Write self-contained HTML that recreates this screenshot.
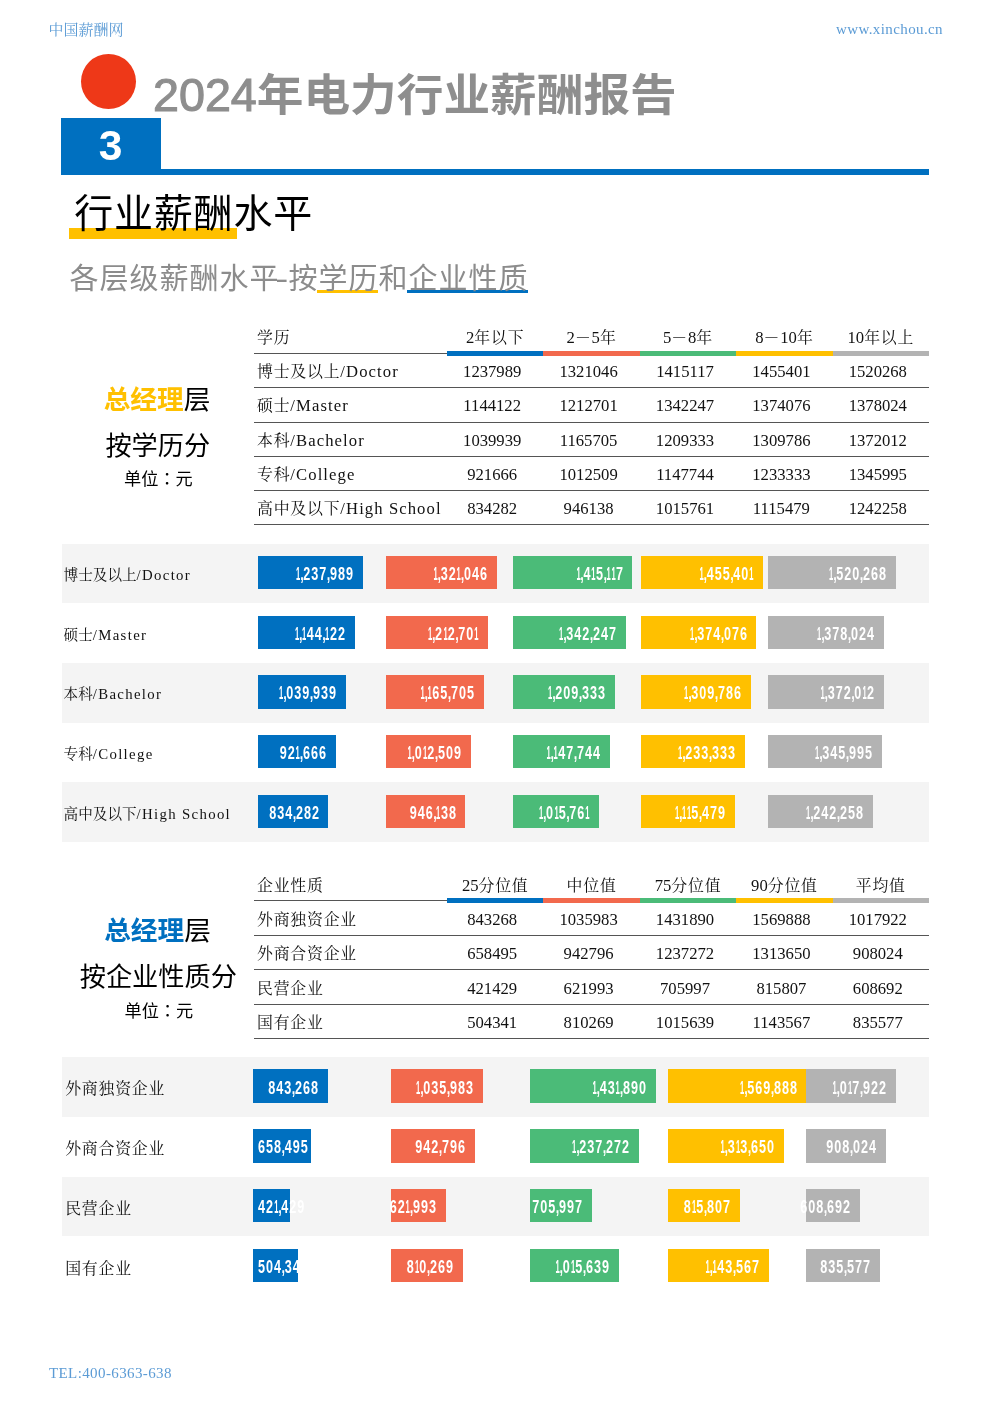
<!DOCTYPE html>
<html lang="zh-CN"><head><meta charset="utf-8"><title>2024年电力行业薪酬报告</title>
<style>
html,body{margin:0;padding:0;background:#fff}
body{width:992px;height:1403px;position:relative;overflow:hidden;font-family:"Liberation Sans","Noto Sans CJK SC",sans-serif;color:#000}
.a{position:absolute;white-space:nowrap;line-height:1}
.hd{font-family:"Liberation Serif","Noto Serif CJK SC",serif;font-size:15px;color:#5B9BD5}
.t{font-family:"Liberation Serif","Noto Serif CJK SC",serif;font-size:15.9px;letter-spacing:.77px;color:#111}
.n{font-family:"Liberation Serif","Noto Serif CJK SC",serif;font-size:16.67px;color:#111;text-align:center}
.lb{font-family:"Liberation Serif","Noto Serif CJK SC",serif;font-size:14.6px;color:#111}
.m{font-family:"Liberation Serif",serif;font-size:16.67px;letter-spacing:1.08px}
.hn{font-family:"Liberation Serif","Noto Serif CJK SC",serif;font-size:15.9px;letter-spacing:.77px;color:#111;text-align:center}
.hn i{font-style:normal;font-size:16.67px;letter-spacing:0}
.ml{font-family:"Liberation Serif",serif;font-size:14.8px;letter-spacing:1.33px}
.mh{font-family:"Liberation Serif",serif;letter-spacing:.026em}
.v{font-family:"Liberation Sans",sans-serif;font-weight:700;font-size:18px;letter-spacing:1.42px;color:#fff;transform:scaleX(.70);transform-origin:100% 50%;text-align:right}
.v i{font-style:normal;display:inline-block;transform:scaleX(.6);transform-origin:46.5% 50%;margin:0 -2.8px 0 -2px}
.v b{margin:0 -1.95px 0 -.7px}
.vl{transform-origin:0 50%;text-align:left}
.ln{position:absolute;height:1px;background:#555}
</style></head><body>

<div class="a hd" style="left:48.5px;top:23px">中国薪酬网</div>
<div class="a hd" style="right:49px;top:22px"><span class="mh">www.xinchou.cn</span></div>
<div class="a hd" style="left:49px;top:1366px"><span class="mh">TEL:400-6363-638</span></div>
<div class="a" style="left:81px;top:53.5px;width:55px;height:55px;border-radius:50%;background:#EE3818"></div>
<div class="a" style="left:153px;top:71.7px;font-size:46.67px;color:#8E8E8E"><span style="-webkit-text-stroke:1.1px #8E8E8E">2024</span><span style="display:inline-block;font-weight:700;transform:scaleY(.95);transform-origin:0 88%">年电力行业薪酬报告</span></div>
<div class="a" style="left:61px;top:118px;width:99.5px;height:56.5px;background:#0070C0"></div>
<div class="a" style="left:160px;top:168.5px;width:769px;height:6px;background:#0070C0"></div>
<div class="a" style="left:61px;top:125px;width:99px;text-align:center;font-size:42.5px;font-weight:700;color:#fff">3</div>
<div class="a" style="left:69.4px;top:228px;width:167.6px;height:10.6px;background:#FFC000"></div>
<div class="a" style="left:74.2px;top:194.2px;font-size:39px;letter-spacing:.8px;color:#000">行业薪酬水平</div>
<div class="a" style="left:317.2px;top:290px;width:60.5px;height:3px;background:#FFC000"></div>
<div class="a" style="left:407.4px;top:290px;width:120.6px;height:3px;background:#0070C0"></div>
<div class="a" style="left:69.5px;top:264.6px;font-size:29px;letter-spacing:1px;color:#8C8C8C">各层级薪酬水平<span style="display:inline-block;transform:scaleX(1.35);margin:0 .9px 0 -2.6px">-</span>按学历和企业性质</div>
<div class="ln" style="left:254px;top:352.9px;width:675px"></div>
<div class="a" style="left:447.0px;top:350.9px;width:96.4px;height:5px;background:#0070C0"></div>
<div class="a" style="left:543.4px;top:350.9px;width:96.4px;height:5px;background:#F2694D"></div>
<div class="a" style="left:639.8px;top:350.9px;width:96.4px;height:5px;background:#4BBB78"></div>
<div class="a" style="left:736.2px;top:350.9px;width:96.4px;height:5px;background:#FFC000"></div>
<div class="a" style="left:832.6px;top:350.9px;width:96.4px;height:5px;background:#B3B3B3"></div>
<div class="ln" style="left:254px;top:387.2px;width:675px"></div>
<div class="ln" style="left:254px;top:421.5px;width:675px"></div>
<div class="ln" style="left:254px;top:455.8px;width:675px"></div>
<div class="ln" style="left:254px;top:490.1px;width:675px"></div>
<div class="ln" style="left:254px;top:524.4px;width:675px"></div>
<div class="a t" style="left:257px;top:330.1px">学历</div>
<div class="a hn" style="left:447.0px;top:330.1px;width:96.4px"><i>2</i>年以下</div>
<div class="a hn" style="left:543.4px;top:330.1px;width:96.4px"><i>2</i>－<i>5</i>年</div>
<div class="a hn" style="left:639.8px;top:330.1px;width:96.4px"><i>5</i>－<i>8</i>年</div>
<div class="a hn" style="left:736.2px;top:330.1px;width:96.4px"><i>8</i>－<i>10</i>年</div>
<div class="a hn" style="left:832.6px;top:330.1px;width:96.4px"><i>10</i>年以上</div>
<div class="a t" style="left:257px;top:364.0px">博士及以上<span class="m">/Doctor</span></div>
<div class="a n" style="left:444.0px;top:364.0px;width:96.4px">1237989</div>
<div class="a n" style="left:540.4px;top:364.0px;width:96.4px">1321046</div>
<div class="a n" style="left:636.8px;top:364.0px;width:96.4px">1415117</div>
<div class="a n" style="left:733.2px;top:364.0px;width:96.4px">1455401</div>
<div class="a n" style="left:829.6px;top:364.0px;width:96.4px">1520268</div>
<div class="a t" style="left:257px;top:398.4px">硕士<span class="m">/Master</span></div>
<div class="a n" style="left:444.0px;top:398.4px;width:96.4px">1144122</div>
<div class="a n" style="left:540.4px;top:398.4px;width:96.4px">1212701</div>
<div class="a n" style="left:636.8px;top:398.4px;width:96.4px">1342247</div>
<div class="a n" style="left:733.2px;top:398.4px;width:96.4px">1374076</div>
<div class="a n" style="left:829.6px;top:398.4px;width:96.4px">1378024</div>
<div class="a t" style="left:257px;top:432.6px">本科<span class="m">/Bachelor</span></div>
<div class="a n" style="left:444.0px;top:432.6px;width:96.4px">1039939</div>
<div class="a n" style="left:540.4px;top:432.6px;width:96.4px">1165705</div>
<div class="a n" style="left:636.8px;top:432.6px;width:96.4px">1209333</div>
<div class="a n" style="left:733.2px;top:432.6px;width:96.4px">1309786</div>
<div class="a n" style="left:829.6px;top:432.6px;width:96.4px">1372012</div>
<div class="a t" style="left:257px;top:467.0px">专科<span class="m">/College</span></div>
<div class="a n" style="left:444.0px;top:467.0px;width:96.4px">921666</div>
<div class="a n" style="left:540.4px;top:467.0px;width:96.4px">1012509</div>
<div class="a n" style="left:636.8px;top:467.0px;width:96.4px">1147744</div>
<div class="a n" style="left:733.2px;top:467.0px;width:96.4px">1233333</div>
<div class="a n" style="left:829.6px;top:467.0px;width:96.4px">1345995</div>
<div class="a t" style="left:257px;top:501.2px">高中及以下<span class="m">/High School</span></div>
<div class="a n" style="left:444.0px;top:501.2px;width:96.4px">834282</div>
<div class="a n" style="left:540.4px;top:501.2px;width:96.4px">946138</div>
<div class="a n" style="left:636.8px;top:501.2px;width:96.4px">1015761</div>
<div class="a n" style="left:733.2px;top:501.2px;width:96.4px">1115479</div>
<div class="a n" style="left:829.6px;top:501.2px;width:96.4px">1242258</div>
<div class="ln" style="left:254px;top:900.4px;width:675px"></div>
<div class="a" style="left:447.0px;top:898.4px;width:96.4px;height:5px;background:#0070C0"></div>
<div class="a" style="left:543.4px;top:898.4px;width:96.4px;height:5px;background:#F2694D"></div>
<div class="a" style="left:639.8px;top:898.4px;width:96.4px;height:5px;background:#4BBB78"></div>
<div class="a" style="left:736.2px;top:898.4px;width:96.4px;height:5px;background:#FFC000"></div>
<div class="a" style="left:832.6px;top:898.4px;width:96.4px;height:5px;background:#B3B3B3"></div>
<div class="ln" style="left:254px;top:934.8px;width:675px"></div>
<div class="ln" style="left:254px;top:969.1px;width:675px"></div>
<div class="ln" style="left:254px;top:1003.5px;width:675px"></div>
<div class="ln" style="left:254px;top:1037.9px;width:675px"></div>
<div class="a t" style="left:257px;top:878.1px">企业性质</div>
<div class="a hn" style="left:447.0px;top:878.1px;width:96.4px"><i>25</i>分位值</div>
<div class="a hn" style="left:543.4px;top:878.1px;width:96.4px">中位值</div>
<div class="a hn" style="left:639.8px;top:878.1px;width:96.4px"><i>75</i>分位值</div>
<div class="a hn" style="left:736.2px;top:878.1px;width:96.4px"><i>90</i>分位值</div>
<div class="a hn" style="left:832.6px;top:878.1px;width:96.4px">平均值</div>
<div class="a t" style="left:257px;top:911.8px">外商独资企业</div>
<div class="a n" style="left:444.0px;top:911.8px;width:96.4px">843268</div>
<div class="a n" style="left:540.4px;top:911.8px;width:96.4px">1035983</div>
<div class="a n" style="left:636.8px;top:911.8px;width:96.4px">1431890</div>
<div class="a n" style="left:733.2px;top:911.8px;width:96.4px">1569888</div>
<div class="a n" style="left:829.6px;top:911.8px;width:96.4px">1017922</div>
<div class="a t" style="left:257px;top:946.2px">外商合资企业</div>
<div class="a n" style="left:444.0px;top:946.2px;width:96.4px">658495</div>
<div class="a n" style="left:540.4px;top:946.2px;width:96.4px">942796</div>
<div class="a n" style="left:636.8px;top:946.2px;width:96.4px">1237272</div>
<div class="a n" style="left:733.2px;top:946.2px;width:96.4px">1313650</div>
<div class="a n" style="left:829.6px;top:946.2px;width:96.4px">908024</div>
<div class="a t" style="left:257px;top:980.5px">民营企业</div>
<div class="a n" style="left:444.0px;top:980.5px;width:96.4px">421429</div>
<div class="a n" style="left:540.4px;top:980.5px;width:96.4px">621993</div>
<div class="a n" style="left:636.8px;top:980.5px;width:96.4px">705997</div>
<div class="a n" style="left:733.2px;top:980.5px;width:96.4px">815807</div>
<div class="a n" style="left:829.6px;top:980.5px;width:96.4px">608692</div>
<div class="a t" style="left:257px;top:1014.9px">国有企业</div>
<div class="a n" style="left:444.0px;top:1014.9px;width:96.4px">504341</div>
<div class="a n" style="left:540.4px;top:1014.9px;width:96.4px">810269</div>
<div class="a n" style="left:636.8px;top:1014.9px;width:96.4px">1015639</div>
<div class="a n" style="left:733.2px;top:1014.9px;width:96.4px">1143567</div>
<div class="a n" style="left:829.6px;top:1014.9px;width:96.4px">835577</div>
<div class="a" style="left:157.0px;top:387.0px;width:300px;margin-left:-150px;text-align:center;font-size:26.67px"><b style="color:#FFC000">总经理</b>层</div>
<div class="a" style="left:157.8px;top:433.3px;width:300px;margin-left:-150px;text-align:center;font-size:26.2px">按学历分</div>
<div class="a" style="left:158.4px;top:470.5px;width:300px;margin-left:-150px;text-align:center;font-size:17.2px">单位<span lang="zh-TW" style="font-family:'Liberation Sans','Noto Sans CJK TC',sans-serif">：</span>元</div>
<div class="a" style="left:157.5px;top:917.5px;width:300px;margin-left:-150px;text-align:center;font-size:26.67px"><b style="color:#0070C0">总经理</b>层</div>
<div class="a" style="left:158.3px;top:964.3px;width:300px;margin-left:-150px;text-align:center;font-size:26.2px">按企业性质分</div>
<div class="a" style="left:158.9px;top:1002.5px;width:300px;margin-left:-150px;text-align:center;font-size:17.2px">单位<span lang="zh-TW" style="font-family:'Liberation Sans','Noto Sans CJK TC',sans-serif">：</span>元</div>
<div class="a" style="left:61.8px;top:543.6px;width:867.2px;height:59.7px;background:#F4F4F4"></div>
<div class="a" style="left:61.8px;top:663.0px;width:867.2px;height:59.7px;background:#F4F4F4"></div>
<div class="a" style="left:61.8px;top:782.4px;width:867.2px;height:59.7px;background:#F4F4F4"></div>
<div class="a lb" style="left:63.6px;top:567.8px;font-size:14.60px;letter-spacing:0.00px">博士及以上<span class="ml">/Doctor</span></div>
<div class="a lb" style="left:63.6px;top:627.5px;font-size:14.60px;letter-spacing:0.00px">硕士<span class="ml">/Master</span></div>
<div class="a lb" style="left:63.6px;top:687.1px;font-size:14.60px;letter-spacing:0.00px">本科<span class="ml">/Bachelor</span></div>
<div class="a lb" style="left:63.6px;top:746.9px;font-size:14.60px;letter-spacing:0.00px">专科<span class="ml">/College</span></div>
<div class="a lb" style="left:63.6px;top:806.6px;font-size:14.60px;letter-spacing:0.00px">高中及以下<span class="ml">/High School</span></div>
<div class="a" style="left:258.2px;top:555.8px;width:104.4px;height:33.6px;background:#0070C0"></div>
<div class="a" style="left:258.2px;top:615.5px;width:96.4px;height:33.6px;background:#0070C0"></div>
<div class="a" style="left:258.2px;top:675.2px;width:87.7px;height:33.6px;background:#0070C0"></div>
<div class="a" style="left:258.2px;top:734.9px;width:77.7px;height:33.6px;background:#0070C0"></div>
<div class="a" style="left:258.2px;top:794.6px;width:70.3px;height:33.6px;background:#0070C0"></div>
<div class="a" style="left:385.7px;top:555.8px;width:111.4px;height:33.6px;background:#F2694D"></div>
<div class="a" style="left:385.7px;top:615.5px;width:102.2px;height:33.6px;background:#F2694D"></div>
<div class="a" style="left:385.7px;top:675.2px;width:98.3px;height:33.6px;background:#F2694D"></div>
<div class="a" style="left:385.7px;top:734.9px;width:85.4px;height:33.6px;background:#F2694D"></div>
<div class="a" style="left:385.7px;top:794.6px;width:79.8px;height:33.6px;background:#F2694D"></div>
<div class="a" style="left:513.2px;top:555.8px;width:119.3px;height:33.6px;background:#4BBB78"></div>
<div class="a" style="left:513.2px;top:615.5px;width:113.2px;height:33.6px;background:#4BBB78"></div>
<div class="a" style="left:513.2px;top:675.2px;width:101.9px;height:33.6px;background:#4BBB78"></div>
<div class="a" style="left:513.2px;top:734.9px;width:96.8px;height:33.6px;background:#4BBB78"></div>
<div class="a" style="left:513.2px;top:794.6px;width:85.6px;height:33.6px;background:#4BBB78"></div>
<div class="a" style="left:640.7px;top:555.8px;width:122.7px;height:33.6px;background:#FFC000"></div>
<div class="a" style="left:640.7px;top:615.5px;width:115.8px;height:33.6px;background:#FFC000"></div>
<div class="a" style="left:640.7px;top:675.2px;width:110.4px;height:33.6px;background:#FFC000"></div>
<div class="a" style="left:640.7px;top:734.9px;width:104.0px;height:33.6px;background:#FFC000"></div>
<div class="a" style="left:640.7px;top:794.6px;width:94.0px;height:33.6px;background:#FFC000"></div>
<div class="a" style="left:768.2px;top:555.8px;width:128.2px;height:33.6px;background:#B3B3B3"></div>
<div class="a" style="left:768.2px;top:615.5px;width:116.2px;height:33.6px;background:#B3B3B3"></div>
<div class="a" style="left:768.2px;top:675.2px;width:115.7px;height:33.6px;background:#B3B3B3"></div>
<div class="a" style="left:768.2px;top:734.9px;width:113.5px;height:33.6px;background:#B3B3B3"></div>
<div class="a" style="left:768.2px;top:794.6px;width:104.7px;height:33.6px;background:#B3B3B3"></div>
<div class="a v" style="left:153.6px;top:565.0px;width:200px"><i>1</i><b>,</b>237<b>,</b>989</div>
<div class="a v" style="left:145.6px;top:624.7px;width:200px"><i>1</i><b>,</b><i>1</i>44<b>,</b><i>1</i>22</div>
<div class="a v" style="left:136.9px;top:684.4px;width:200px"><i>1</i><b>,</b>039<b>,</b>939</div>
<div class="a v" style="left:126.9px;top:744.1px;width:200px">92<i>1</i><b>,</b>666</div>
<div class="a v" style="left:119.5px;top:803.8px;width:200px">834<b>,</b>282</div>
<div class="a v" style="left:288.1px;top:565.0px;width:200px"><i>1</i><b>,</b>32<i>1</i><b>,</b>046</div>
<div class="a v" style="left:278.9px;top:624.7px;width:200px"><i>1</i><b>,</b>2<i>1</i>2<b>,</b>70<i>1</i></div>
<div class="a v" style="left:275.0px;top:684.4px;width:200px"><i>1</i><b>,</b><i>1</i>65<b>,</b>705</div>
<div class="a v" style="left:262.1px;top:744.1px;width:200px"><i>1</i><b>,</b>0<i>1</i>2<b>,</b>509</div>
<div class="a v" style="left:256.5px;top:803.8px;width:200px">946<b>,</b><i>1</i>38</div>
<div class="a v" style="left:423.5px;top:565.0px;width:200px"><i>1</i><b>,</b>4<i>1</i>5<b>,</b><i>1</i><i>1</i>7</div>
<div class="a v" style="left:417.4px;top:624.7px;width:200px"><i>1</i><b>,</b>342<b>,</b>247</div>
<div class="a v" style="left:406.1px;top:684.4px;width:200px"><i>1</i><b>,</b>209<b>,</b>333</div>
<div class="a v" style="left:401.0px;top:744.1px;width:200px"><i>1</i><b>,</b><i>1</i>47<b>,</b>744</div>
<div class="a v" style="left:389.8px;top:803.8px;width:200px"><i>1</i><b>,</b>0<i>1</i>5<b>,</b>76<i>1</i></div>
<div class="a v" style="left:554.4px;top:565.0px;width:200px"><i>1</i><b>,</b>455<b>,</b>40<i>1</i></div>
<div class="a v" style="left:547.5px;top:624.7px;width:200px"><i>1</i><b>,</b>374<b>,</b>076</div>
<div class="a v" style="left:542.1px;top:684.4px;width:200px"><i>1</i><b>,</b>309<b>,</b>786</div>
<div class="a v" style="left:535.7px;top:744.1px;width:200px"><i>1</i><b>,</b>233<b>,</b>333</div>
<div class="a v" style="left:525.7px;top:803.8px;width:200px"><i>1</i><b>,</b><i>1</i><i>1</i>5<b>,</b>479</div>
<div class="a v" style="left:687.4px;top:565.0px;width:200px"><i>1</i><b>,</b>520<b>,</b>268</div>
<div class="a v" style="left:675.4px;top:624.7px;width:200px"><i>1</i><b>,</b>378<b>,</b>024</div>
<div class="a v" style="left:674.9px;top:684.4px;width:200px"><i>1</i><b>,</b>372<b>,</b>0<i>1</i>2</div>
<div class="a v" style="left:672.7px;top:744.1px;width:200px"><i>1</i><b>,</b>345<b>,</b>995</div>
<div class="a v" style="left:663.9px;top:803.8px;width:200px"><i>1</i><b>,</b>242<b>,</b>258</div>
<div class="a" style="left:61.8px;top:1057.2px;width:867.2px;height:59.7px;background:#F4F4F4"></div>
<div class="a" style="left:61.8px;top:1176.6px;width:867.2px;height:59.7px;background:#F4F4F4"></div>
<div class="a lb" style="left:65.2px;top:1081.4px;font-size:15.90px;letter-spacing:0.77px">外商独资企业</div>
<div class="a lb" style="left:65.2px;top:1141.1px;font-size:15.90px;letter-spacing:0.77px">外商合资企业</div>
<div class="a lb" style="left:65.2px;top:1200.8px;font-size:15.90px;letter-spacing:0.77px">民营企业</div>
<div class="a lb" style="left:65.2px;top:1260.5px;font-size:15.90px;letter-spacing:0.77px">国有企业</div>
<div class="a" style="left:253.1px;top:1069.4px;width:74.6px;height:33.6px;background:#0070C0"></div>
<div class="a" style="left:253.1px;top:1129.1px;width:58.3px;height:33.6px;background:#0070C0"></div>
<div class="a" style="left:253.1px;top:1188.8px;width:37.3px;height:33.6px;background:#0070C0"></div>
<div class="a" style="left:253.1px;top:1248.5px;width:44.6px;height:33.6px;background:#0070C0"></div>
<div class="a" style="left:391.3px;top:1069.4px;width:91.7px;height:33.6px;background:#F2694D"></div>
<div class="a" style="left:391.3px;top:1129.1px;width:83.4px;height:33.6px;background:#F2694D"></div>
<div class="a" style="left:391.3px;top:1188.8px;width:55.0px;height:33.6px;background:#F2694D"></div>
<div class="a" style="left:391.3px;top:1248.5px;width:71.7px;height:33.6px;background:#F2694D"></div>
<div class="a" style="left:529.5px;top:1069.4px;width:126.7px;height:33.6px;background:#4BBB78"></div>
<div class="a" style="left:529.5px;top:1129.1px;width:109.5px;height:33.6px;background:#4BBB78"></div>
<div class="a" style="left:529.5px;top:1188.8px;width:62.5px;height:33.6px;background:#4BBB78"></div>
<div class="a" style="left:529.5px;top:1248.5px;width:89.9px;height:33.6px;background:#4BBB78"></div>
<div class="a" style="left:667.7px;top:1069.4px;width:138.9px;height:33.6px;background:#FFC000"></div>
<div class="a" style="left:667.7px;top:1129.1px;width:116.3px;height:33.6px;background:#FFC000"></div>
<div class="a" style="left:667.7px;top:1188.8px;width:72.2px;height:33.6px;background:#FFC000"></div>
<div class="a" style="left:667.7px;top:1248.5px;width:101.2px;height:33.6px;background:#FFC000"></div>
<div class="a" style="left:805.9px;top:1069.4px;width:90.1px;height:33.6px;background:#B3B3B3"></div>
<div class="a" style="left:805.9px;top:1129.1px;width:80.4px;height:33.6px;background:#B3B3B3"></div>
<div class="a" style="left:805.9px;top:1188.8px;width:53.9px;height:33.6px;background:#B3B3B3"></div>
<div class="a" style="left:805.9px;top:1248.5px;width:73.9px;height:33.6px;background:#B3B3B3"></div>
<div class="a v" style="left:118.7px;top:1078.6px;width:200px">843<b>,</b>268</div>
<div class="a v vl" style="left:258.3px;top:1138.3px">658<b>,</b>495</div>
<div class="a v vl" style="left:258.3px;top:1198.0px">42<i>1</i><b>,</b>429</div>
<div class="a v vl" style="left:258.3px;top:1257.7px">504<b>,</b>34<i>1</i></div>
<div class="a v" style="left:274.0px;top:1078.6px;width:200px"><i>1</i><b>,</b>035<b>,</b>983</div>
<div class="a v" style="left:265.7px;top:1138.3px;width:200px">942<b>,</b>796</div>
<div class="a v" style="left:237.3px;top:1198.0px;width:200px">62<i>1</i><b>,</b>993</div>
<div class="a v" style="left:254.0px;top:1257.7px;width:200px">8<i>1</i>0<b>,</b>269</div>
<div class="a v" style="left:447.2px;top:1078.6px;width:200px"><i>1</i><b>,</b>43<i>1</i><b>,</b>890</div>
<div class="a v" style="left:430.0px;top:1138.3px;width:200px"><i>1</i><b>,</b>237<b>,</b>272</div>
<div class="a v" style="left:383.0px;top:1198.0px;width:200px">705<b>,</b>997</div>
<div class="a v" style="left:410.4px;top:1257.7px;width:200px"><i>1</i><b>,</b>0<i>1</i>5<b>,</b>639</div>
<div class="a v" style="left:597.6px;top:1078.6px;width:200px"><i>1</i><b>,</b>569<b>,</b>888</div>
<div class="a v" style="left:575.0px;top:1138.3px;width:200px"><i>1</i><b>,</b>3<i>1</i>3<b>,</b>650</div>
<div class="a v" style="left:530.9px;top:1198.0px;width:200px">8<i>1</i>5<b>,</b>807</div>
<div class="a v" style="left:559.9px;top:1257.7px;width:200px"><i>1</i><b>,</b><i>1</i>43<b>,</b>567</div>
<div class="a v" style="left:687.0px;top:1078.6px;width:200px"><i>1</i><b>,</b>0<i>1</i>7<b>,</b>922</div>
<div class="a v" style="left:677.3px;top:1138.3px;width:200px">908<b>,</b>024</div>
<div class="a v" style="left:650.8px;top:1198.0px;width:200px">608<b>,</b>692</div>
<div class="a v" style="left:670.8px;top:1257.7px;width:200px">835<b>,</b>577</div>
</body></html>
